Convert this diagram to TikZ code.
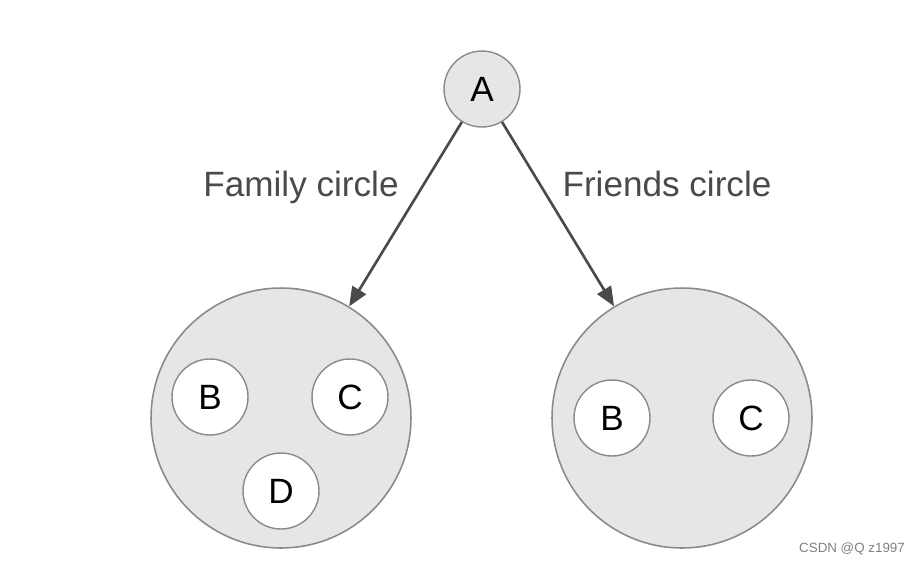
\documentclass[tikz,border=0pt]{standalone}
\usepackage{fontspec}
\setmainfont{Liberation Sans}
\usepackage{xcolor}
\usetikzlibrary{shapes.geometric, arrows.meta, positioning}

\definecolor{rimgray}{HTML}{8A8A8A}
\definecolor{fillgray}{HTML}{E6E6E6}
\definecolor{textgray}{HTML}{4A4A4A}

\begin{document}
\begin{tikzpicture}[x=0.02cm, y=-0.02cm,
    person/.style={circle, draw=rimgray, line width=0.8pt, fill=fillgray, minimum size=1.52cm, inner sep=0pt, font=\fontsize{20}{24}\selectfont},
    member/.style={circle, draw=rimgray, line width=0.8pt, fill=white, minimum size=1.52cm, inner sep=0pt, font=\fontsize{20}{24}\selectfont},
    group/.style={circle, draw=rimgray, line width=0.9pt, fill=fillgray, minimum size=5.2cm, inner sep=0pt},
    tag/.style={text=textgray, anchor=base, font=\fontsize{20}{24}\selectfont},
    arrow/.style={line width=1.5pt, draw=textgray, -{Triangle[length=11pt, width=9pt]}}]

    \useasboundingbox (0,0) rectangle (924,566);

    % Nodes
    \node [person] (A) at (482,89) {A};
    \node [group] (fam) at (281,418) {};
    \node [group] (fri) at (682,418) {};
    \node [member] (famB) at (210,397) {B};
    \node [member] (famC) at (350,397) {C};
    \node [member] (famD) at (281,491) {D};
    \node [member] (friB) at (612,418) {B};
    \node [member] (friC) at (751,418) {C};
    \node [tag] (famlbl) at (301,196) {Family circle};
    \node [tag] (frilbl) at (667,196) {Friends circle};
    \node [text=gray, font=\fontsize{7.6}{9}\selectfont, anchor=east] (mark) at (911,549) {CSDN @Q z1997};

    % Arrows
    \draw [arrow] (A) -- (fam);
    \draw [arrow] (A) -- (fri);

\end{tikzpicture}
\end{document}
